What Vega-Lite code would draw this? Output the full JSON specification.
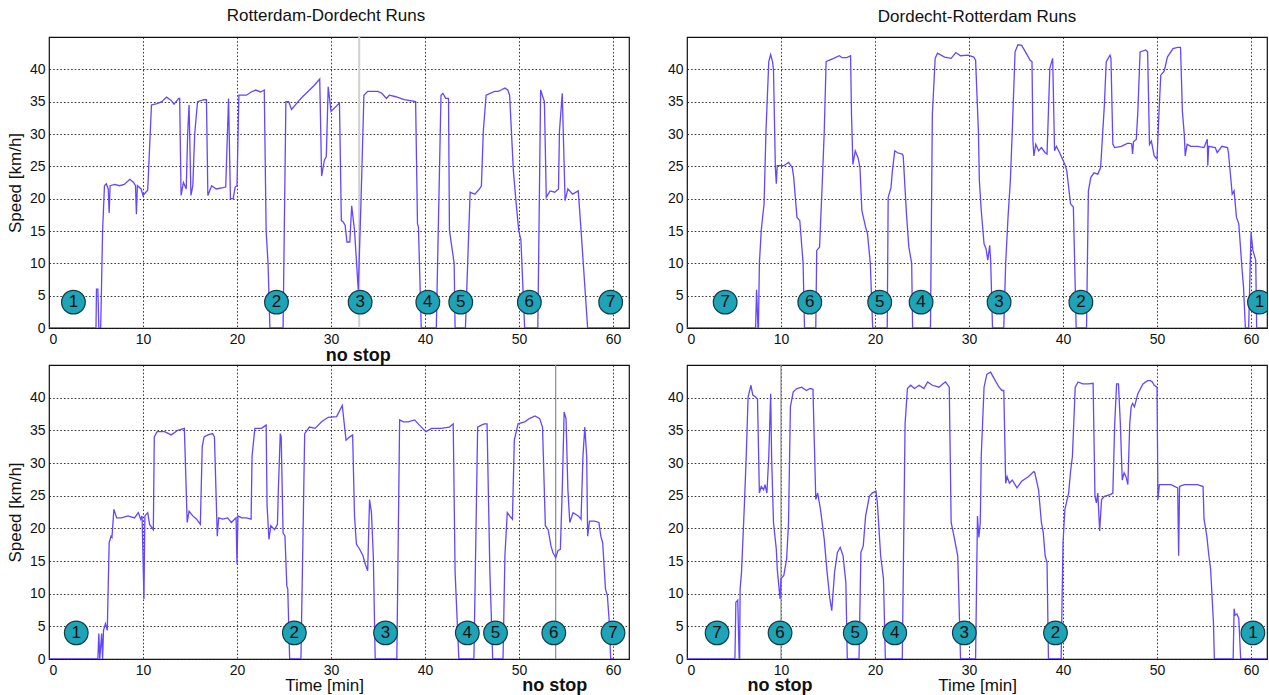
{
  "$schema": "https://vega.github.io/schema/vega-lite/v6.json",
  "background": "white",
  "padding": {"left": 5, "top": 6, "right": 0, "bottom": 0},
  "config": {
    "font": "Liberation Sans",
    "view": {"stroke": "#111", "strokeWidth": 1.2},
    "axis": {"grid": true, "gridColor": "#222", "gridDash": [1.6, 2], "gridWidth": 0.9, "domain": false, "ticks": false, "labelFontSize": 14, "labelColor": "#111", "titleFontSize": 17, "titleFontWeight": "normal", "titleColor": "#111", "labelPadding": 4},
    "title": {"fontSize": 17, "fontWeight": "normal", "color": "#111", "offset": 11}
  },
  "datasets": {
    "tl": [
      {"t":0,"v":0},{"t":5.0,"v":0},{"t":5.05,"v":6},{"t":5.2,"v":6},{"t":5.3,"v":0},{"t":5.5,"v":0},{"t":5.7,"v":15},{"t":5.9,"v":22},{"t":6.1,"v":22.3},{"t":6.3,"v":21.5},{"t":6.4,"v":17.8},{"t":6.5,"v":22},{"t":7,"v":22.2},{"t":7.5,"v":22},{"t":8,"v":22.2},{"t":8.6,"v":23},{"t":9.0,"v":22.5},{"t":9.2,"v":22},{"t":9.3,"v":17.6},{"t":9.4,"v":22},{"t":9.8,"v":21.5},{"t":10,"v":20.5},{"t":10.3,"v":21},{"t":10.5,"v":21.3},{"t":10.9,"v":34.5},{"t":11.5,"v":34.7},{"t":12,"v":35},{"t":12.5,"v":35.7},{"t":13,"v":35.2},{"t":13.3,"v":34.6},{"t":13.8,"v":35.5},{"t":13.9,"v":35.5},{"t":14.05,"v":20.5},{"t":14.3,"v":22.5},{"t":14.6,"v":21.5},{"t":14.75,"v":30},{"t":14.9,"v":34.5},{"t":15.1,"v":20.5},{"t":15.3,"v":22},{"t":15.5,"v":30},{"t":15.8,"v":35},{"t":16.5,"v":35.3},{"t":16.75,"v":35.3},{"t":16.9,"v":20.5},{"t":17.3,"v":22},{"t":17.8,"v":21.5},{"t":18.5,"v":21.7},{"t":18.8,"v":21.8},{"t":19.1,"v":35.5},{"t":19.3,"v":20},{"t":19.6,"v":20},{"t":19.8,"v":21.8},{"t":20.0,"v":22},{"t":20.2,"v":36},{"t":21,"v":36},{"t":21.5,"v":36.5},{"t":22,"v":36.8},{"t":22.5,"v":36.5},{"t":22.9,"v":36.8},{"t":23.1,"v":15},{"t":23.3,"v":10},{"t":23.5,"v":0},{"t":24.9,"v":0},{"t":25.2,"v":35},{"t":25.5,"v":35},{"t":25.8,"v":33.8},{"t":26.5,"v":35},{"t":27,"v":35.8},{"t":27.5,"v":36.5},{"t":28.2,"v":37.5},{"t":28.8,"v":38.5},{"t":29.0,"v":23.5},{"t":29.3,"v":26},{"t":29.5,"v":26.5},{"t":29.7,"v":37.3},{"t":30.0,"v":33.5},{"t":30.9,"v":34.8},{"t":31.1,"v":16.6},{"t":31.3,"v":16.4},{"t":31.5,"v":15.9},{"t":31.7,"v":13.3},{"t":32.0,"v":13.3},{"t":32.2,"v":18.9},{"t":32.5,"v":15.1},{"t":32.9,"v":5.9},{"t":33.2,"v":20},{"t":33.5,"v":36},{"t":33.9,"v":36.6},{"t":35.0,"v":36.6},{"t":35.4,"v":36.3},{"t":35.9,"v":35.5},{"t":36.2,"v":36},{"t":36.8,"v":35.8},{"t":37.8,"v":35.3},{"t":39.0,"v":35.0},{"t":39.2,"v":16.1},{"t":39.3,"v":15.6},{"t":39.6,"v":0},{"t":41.2,"v":0},{"t":41.7,"v":36},{"t":41.9,"v":36.3},{"t":42.2,"v":35.5},{"t":42.5,"v":35.5},{"t":42.6,"v":15.1},{"t":43.1,"v":10},{"t":43.2,"v":0},{"t":44.3,"v":0},{"t":44.8,"v":21},{"t":45.3,"v":20.7},{"t":45.8,"v":21.5},{"t":46.0,"v":22},{"t":46.2,"v":30.4},{"t":46.5,"v":36},{"t":47.4,"v":36.6},{"t":47.8,"v":36.6},{"t":48.1,"v":36.8},{"t":48.5,"v":37.1},{"t":48.8,"v":36.8},{"t":49.0,"v":36},{"t":49.4,"v":24.3},{"t":49.7,"v":19.2},{"t":49.97,"v":15.1},{"t":50.2,"v":13.6},{"t":50.6,"v":0},{"t":52.0,"v":0},{"t":52.3,"v":36.8},{"t":52.7,"v":35},{"t":52.9,"v":20.2},{"t":53.3,"v":21.2},{"t":53.8,"v":21},{"t":54.2,"v":21.5},{"t":54.3,"v":30.4},{"t":54.6,"v":36.3},{"t":54.9,"v":19.7},{"t":55.2,"v":21.5},{"t":55.7,"v":20.7},{"t":56.3,"v":21.2},{"t":56.6,"v":15.1},{"t":57.3,"v":0},{"t":61.7,"v":0}
    ],
    "tr": [
      {"t":0,"v":0},{"t":7.3,"v":0},{"t":7.4,"v":5.9},{"t":7.55,"v":0},{"t":7.6,"v":0},{"t":7.7,"v":10},{"t":7.9,"v":15.1},{"t":8.1,"v":17.9},{"t":8.2,"v":19.2},{"t":8.4,"v":30.4},{"t":8.7,"v":41.2},{"t":8.9,"v":42.3},{"t":9.1,"v":41.2},{"t":9.2,"v":39.9},{"t":9.4,"v":24.8},{"t":9.5,"v":22.3},{"t":9.6,"v":25.1},{"t":10.3,"v":25.1},{"t":10.8,"v":25.6},{"t":11.2,"v":24.8},{"t":11.35,"v":23.3},{"t":11.7,"v":17.1},{"t":12.0,"v":16.6},{"t":12.35,"v":10},{"t":12.5,"v":0},{"t":13.7,"v":0},{"t":13.8,"v":12},{"t":14.1,"v":12.5},{"t":14.4,"v":22.8},{"t":14.6,"v":30.4},{"t":14.8,"v":41.2},{"t":15.1,"v":41.4},{"t":15.6,"v":41.7},{"t":16.2,"v":42.1},{"t":16.5,"v":41.8},{"t":17.0,"v":41.8},{"t":17.4,"v":42.1},{"t":17.5,"v":33},{"t":17.65,"v":25.3},{"t":17.9,"v":27.4},{"t":18.2,"v":26.3},{"t":18.4,"v":24.8},{"t":18.6,"v":18.2},{"t":19.0,"v":15.6},{"t":19.2,"v":14.6},{"t":19.5,"v":10},{"t":19.75,"v":0},{"t":21.3,"v":0},{"t":21.4,"v":20.2},{"t":21.7,"v":21.7},{"t":21.85,"v":24.3},{"t":22.1,"v":27.4},{"t":22.4,"v":27.1},{"t":22.9,"v":26.9},{"t":23.0,"v":26.6},{"t":23.35,"v":17.6},{"t":23.6,"v":12.5},{"t":23.9,"v":10},{"t":24.0,"v":0},{"t":25.9,"v":0},{"t":26.1,"v":33},{"t":26.4,"v":41.7},{"t":26.65,"v":42.5},{"t":27.4,"v":41.9},{"t":28.1,"v":41.7},{"t":28.6,"v":42.6},{"t":29.1,"v":42.1},{"t":29.9,"v":42.2},{"t":30.5,"v":41.9},{"t":30.7,"v":41.4},{"t":31.0,"v":30.4},{"t":31.1,"v":22.8},{"t":31.3,"v":18.2},{"t":31.6,"v":13},{"t":31.8,"v":12.3},{"t":32.0,"v":10.5},{"t":32.2,"v":12.8},{"t":32.3,"v":10.5},{"t":32.5,"v":0},{"t":33.7,"v":0},{"t":33.9,"v":10},{"t":34.15,"v":17.1},{"t":34.4,"v":22.8},{"t":34.6,"v":30.4},{"t":34.9,"v":42.7},{"t":35.2,"v":43.8},{"t":35.6,"v":43.7},{"t":35.8,"v":43.2},{"t":36.2,"v":42.2},{"t":36.5,"v":41.4},{"t":36.7,"v":41.2},{"t":36.8,"v":28.9},{"t":36.9,"v":26.6},{"t":37.1,"v":28.4},{"t":37.4,"v":27.4},{"t":37.7,"v":27.9},{"t":38.1,"v":27.1},{"t":38.3,"v":26.9},{"t":38.6,"v":40.2},{"t":38.9,"v":41.7},{"t":39.1,"v":27.4},{"t":39.3,"v":28.1},{"t":39.7,"v":26.9},{"t":40.2,"v":25.3},{"t":40.4,"v":24.3},{"t":40.8,"v":19.2},{"t":41.1,"v":18.7},{"t":41.4,"v":0},{"t":42.5,"v":0},{"t":42.7,"v":21.2},{"t":42.96,"v":23.3},{"t":43.3,"v":24},{"t":43.7,"v":23.8},{"t":44.0,"v":24.8},{"t":44.4,"v":34.5},{"t":44.6,"v":41.2},{"t":45.0,"v":42.2},{"t":45.1,"v":41.7},{"t":45.3,"v":28.4},{"t":45.5,"v":27.9},{"t":46.2,"v":28.1},{"t":46.9,"v":28.6},{"t":47.3,"v":28.5},{"t":47.4,"v":26.9},{"t":47.5,"v":28.8},{"t":47.8,"v":29.2},{"t":47.96,"v":33.5},{"t":48.2,"v":42.7},{"t":48.8,"v":43},{"t":49.0,"v":42.7},{"t":49.2,"v":28.4},{"t":49.4,"v":28.9},{"t":49.7,"v":26.6},{"t":50.0,"v":26.1},{"t":50.2,"v":33},{"t":50.4,"v":39.1},{"t":50.7,"v":39.6},{"t":50.8,"v":39.9},{"t":51.1,"v":41.9},{"t":51.7,"v":43.2},{"t":52.2,"v":43.4},{"t":52.5,"v":43.4},{"t":52.7,"v":33.5},{"t":52.9,"v":29.9},{"t":53.0,"v":26.6},{"t":53.2,"v":28.4},{"t":53.6,"v":28.1},{"t":54.3,"v":28.1},{"t":55.0,"v":27.9},{"t":55.35,"v":29.2},{"t":55.4,"v":25.1},{"t":55.5,"v":28.1},{"t":56.2,"v":27.9},{"t":56.4,"v":27.1},{"t":56.9,"v":28.1},{"t":57.5,"v":27.9},{"t":57.6,"v":27.1},{"t":58.0,"v":20.7},{"t":58.2,"v":21.2},{"t":58.45,"v":17.1},{"t":58.7,"v":16.1},{"t":59.05,"v":9},{"t":59.2,"v":6.4},{"t":59.4,"v":0},{"t":59.75,"v":0},{"t":60.0,"v":14.8},{"t":60.2,"v":12},{"t":60.5,"v":10.5},{"t":60.6,"v":0},{"t":61.7,"v":0}
    ],
    "bl": [
      {"t":0,"v":0},{"t":5.2,"v":0},{"t":5.3,"v":3.9},{"t":5.4,"v":0},{"t":5.6,"v":3.9},{"t":5.7,"v":0},{"t":5.8,"v":4.4},{"t":6.0,"v":5.4},{"t":6.2,"v":4.4},{"t":6.4,"v":17.8},{"t":6.6,"v":18.8},{"t":6.7,"v":18.6},{"t":6.9,"v":22.9},{"t":7.2,"v":21.6},{"t":7.7,"v":21.6},{"t":8.4,"v":21.9},{"t":9.1,"v":21.6},{"t":9.5,"v":22.4},{"t":9.75,"v":21.4},{"t":9.9,"v":21.9},{"t":10.1,"v":9.2},{"t":10.2,"v":21.9},{"t":10.5,"v":22.4},{"t":10.7,"v":20.6},{"t":11.1,"v":19.8},{"t":11.2,"v":34},{"t":11.5,"v":34.8},{"t":12.3,"v":34.8},{"t":13.0,"v":34.3},{"t":13.7,"v":35},{"t":14.4,"v":35.3},{"t":14.7,"v":20.9},{"t":14.9,"v":22.6},{"t":15.3,"v":21.9},{"t":15.7,"v":21.4},{"t":16.1,"v":20.6},{"t":16.3,"v":32.5},{"t":16.5,"v":34},{"t":16.9,"v":34.3},{"t":17.4,"v":34.5},{"t":17.6,"v":34},{"t":17.9,"v":18.8},{"t":18.05,"v":21.6},{"t":18.5,"v":21.4},{"t":19.0,"v":21.6},{"t":19.4,"v":20.9},{"t":19.9,"v":21.6},{"t":20.0,"v":14.5},{"t":20.1,"v":21.9},{"t":20.5,"v":21.6},{"t":21.0,"v":21.6},{"t":21.5,"v":21.4},{"t":21.6,"v":31},{"t":21.9,"v":35.3},{"t":22.6,"v":35.3},{"t":23.1,"v":35.8},{"t":23.2,"v":23.4},{"t":23.4,"v":18.3},{"t":23.6,"v":20.4},{"t":24.0,"v":19.8},{"t":24.3,"v":20.6},{"t":24.4,"v":25.9},{"t":24.6,"v":34.5},{"t":24.7,"v":34},{"t":24.9,"v":19.3},{"t":25.1,"v":18.8},{"t":25.3,"v":11.2},{"t":25.4,"v":10.7},{"t":25.6,"v":0},{"t":26.8,"v":0},{"t":27.2,"v":34.5},{"t":27.7,"v":35.5},{"t":28.3,"v":35.3},{"t":29.0,"v":36.3},{"t":29.7,"v":37},{"t":30.6,"v":37.1},{"t":31.2,"v":38.8},{"t":31.4,"v":36.1},{"t":31.6,"v":33.5},{"t":32.0,"v":34},{"t":32.3,"v":34.3},{"t":32.5,"v":21.9},{"t":32.7,"v":17.6},{"t":33.05,"v":16.8},{"t":33.4,"v":15.8},{"t":33.65,"v":14.5},{"t":33.9,"v":13.5},{"t":34.1,"v":24.4},{"t":34.3,"v":22.4},{"t":34.5,"v":15.8},{"t":34.7,"v":0},{"t":37.0,"v":0},{"t":37.3,"v":36.6},{"t":37.7,"v":36.3},{"t":38.2,"v":36.3},{"t":38.9,"v":36.6},{"t":39.4,"v":35.8},{"t":40.1,"v":34.8},{"t":40.7,"v":35.3},{"t":41.7,"v":35.3},{"t":42.6,"v":35.5},{"t":43.0,"v":36},{"t":43.2,"v":13.3},{"t":43.6,"v":0},{"t":45.2,"v":0},{"t":45.6,"v":35.5},{"t":46.0,"v":35.8},{"t":46.3,"v":36},{"t":46.6,"v":36},{"t":46.9,"v":13.3},{"t":47.2,"v":0},{"t":48.3,"v":0},{"t":48.5,"v":15.8},{"t":48.75,"v":22.4},{"t":49.0,"v":21.9},{"t":49.3,"v":21.4},{"t":49.5,"v":33.5},{"t":49.9,"v":36},{"t":50.6,"v":36.3},{"t":51.1,"v":36.8},{"t":51.7,"v":37.2},{"t":52.2,"v":36.8},{"t":52.5,"v":35.5},{"t":52.8,"v":20.4},{"t":53.1,"v":19.8},{"t":53.4,"v":17.3},{"t":53.6,"v":16.3},{"t":53.9,"v":15.5},{"t":54.15,"v":16.6},{"t":54.4,"v":16.8},{"t":54.6,"v":25.9},{"t":54.8,"v":37.8},{"t":55.0,"v":36.8},{"t":55.2,"v":25.9},{"t":55.4,"v":20.9},{"t":55.75,"v":22.4},{"t":56.3,"v":21.9},{"t":56.6,"v":21.4},{"t":56.8,"v":31},{"t":57.0,"v":35.5},{"t":57.2,"v":31},{"t":57.3,"v":18.8},{"t":57.5,"v":21.1},{"t":58.05,"v":21.1},{"t":58.5,"v":20.9},{"t":58.7,"v":18.8},{"t":58.9,"v":17.8},{"t":59.2,"v":10.7},{"t":59.4,"v":9.7},{"t":59.6,"v":5.7},{"t":59.75,"v":0},{"t":60,"v":0}
    ],
    "br": [
      {"t":0,"v":0},{"t":5.1,"v":0},{"t":5.2,"v":8.7},{"t":5.4,"v":9},{"t":5.55,"v":0},{"t":5.6,"v":0},{"t":5.65,"v":10.7},{"t":5.8,"v":13.3},{"t":6.1,"v":23.4},{"t":6.3,"v":31},{"t":6.5,"v":40.1},{"t":6.8,"v":41.9},{"t":7.0,"v":40.4},{"t":7.3,"v":40.1},{"t":7.5,"v":39.8},{"t":7.7,"v":25.4},{"t":7.9,"v":26.4},{"t":8.15,"v":25.9},{"t":8.3,"v":26.7},{"t":8.5,"v":25.4},{"t":8.7,"v":31},{"t":8.9,"v":40.6},{"t":9.0,"v":31},{"t":9.2,"v":20.9},{"t":9.5,"v":16.8},{"t":9.6,"v":13.8},{"t":9.9,"v":9.2},{"t":10.0,"v":12.3},{"t":10.3,"v":12.8},{"t":10.6,"v":15.3},{"t":10.8,"v":20.9},{"t":11.0,"v":38.6},{"t":11.3,"v":40.9},{"t":11.7,"v":41.4},{"t":12.2,"v":41.6},{"t":12.7,"v":41.1},{"t":13.1,"v":41.4},{"t":13.4,"v":41.3},{"t":13.7,"v":24.4},{"t":13.9,"v":25.4},{"t":14.2,"v":22.9},{"t":14.6,"v":18.3},{"t":14.9,"v":13.3},{"t":15.2,"v":9.2},{"t":15.4,"v":7.4},{"t":15.7,"v":13.3},{"t":16.0,"v":16.3},{"t":16.3,"v":17.1},{"t":16.6,"v":15.8},{"t":16.9,"v":11.7},{"t":17.05,"v":0},{"t":18.3,"v":0},{"t":18.5,"v":16.3},{"t":18.75,"v":17.3},{"t":19.0,"v":21.9},{"t":19.4,"v":24.9},{"t":19.7,"v":25.4},{"t":20.1,"v":25.7},{"t":20.25,"v":23.9},{"t":20.6,"v":15.8},{"t":20.9,"v":12.3},{"t":21.1,"v":0},{"t":22.9,"v":0},{"t":23.2,"v":36},{"t":23.45,"v":41.4},{"t":23.8,"v":41.9},{"t":24.2,"v":41.4},{"t":24.7,"v":41.9},{"t":25.2,"v":41.4},{"t":25.6,"v":42.4},{"t":26.1,"v":41.9},{"t":26.8,"v":41.6},{"t":27.2,"v":42.1},{"t":27.5,"v":42.4},{"t":27.9,"v":41.6},{"t":28.1,"v":20.9},{"t":28.4,"v":18.8},{"t":28.8,"v":15.8},{"t":29.1,"v":0},{"t":30.7,"v":0},{"t":30.9,"v":21.9},{"t":31.05,"v":18.6},{"t":31.2,"v":20.9},{"t":31.3,"v":31},{"t":31.6,"v":41.6},{"t":31.9,"v":43.6},{"t":32.3,"v":43.9},{"t":32.6,"v":43.1},{"t":33.2,"v":41.6},{"t":33.5,"v":41.1},{"t":33.7,"v":41.1},{"t":33.9,"v":26.9},{"t":34.05,"v":27.9},{"t":34.3,"v":26.9},{"t":34.6,"v":27.4},{"t":34.9,"v":26.7},{"t":35.1,"v":26.2},{"t":35.6,"v":27.2},{"t":36.3,"v":27.9},{"t":36.9,"v":28.7},{"t":37.0,"v":28.5},{"t":37.4,"v":25.9},{"t":37.7,"v":20.9},{"t":37.9,"v":19.3},{"t":38.1,"v":15.8},{"t":38.3,"v":14.8},{"t":38.45,"v":0},{"t":39.8,"v":0},{"t":40.0,"v":17.8},{"t":40.2,"v":22.9},{"t":40.6,"v":25.4},{"t":40.8,"v":28.7},{"t":41.0,"v":31},{"t":41.3,"v":41.6},{"t":41.6,"v":42.4},{"t":42.1,"v":42.1},{"t":42.7,"v":42.1},{"t":43.2,"v":42.2},{"t":43.4,"v":24.9},{"t":43.55,"v":23.9},{"t":43.7,"v":25.4},{"t":43.9,"v":19.6},{"t":44.1,"v":24.4},{"t":44.4,"v":24.9},{"t":45.1,"v":25.2},{"t":45.3,"v":25.4},{"t":45.5,"v":36},{"t":45.7,"v":42.1},{"t":45.9,"v":42.1},{"t":46.1,"v":36},{"t":46.3,"v":27.4},{"t":46.5,"v":28.5},{"t":46.7,"v":27.9},{"t":46.9,"v":26.7},{"t":47.1,"v":36},{"t":47.25,"v":38.6},{"t":47.4,"v":39.1},{"t":47.6,"v":38.6},{"t":47.96,"v":40.6},{"t":48.5,"v":42.1},{"t":49.0,"v":42.6},{"t":49.3,"v":42.6},{"t":49.5,"v":42.4},{"t":49.7,"v":41.9},{"t":50.0,"v":41.6},{"t":50.1,"v":24.4},{"t":50.25,"v":26.7},{"t":50.8,"v":26.7},{"t":51.5,"v":26.7},{"t":52.2,"v":26.2},{"t":52.3,"v":15.8},{"t":52.4,"v":26.4},{"t":52.9,"v":26.7},{"t":53.6,"v":26.7},{"t":54.3,"v":26.7},{"t":54.9,"v":26.4},{"t":55.0,"v":21.4},{"t":55.3,"v":18.8},{"t":55.5,"v":16},{"t":55.7,"v":13.8},{"t":56.0,"v":5.7},{"t":56.1,"v":0},{"t":58.1,"v":0},{"t":58.2,"v":7.7},{"t":58.3,"v":6.7},{"t":58.5,"v":6.9},{"t":58.7,"v":6.2},{"t":58.9,"v":0},{"t":61.7,"v":0}
    ],
    "markers": [
      {"p":"tl","t":2.6,"v":4,"n":"1"},{"p":"tl","t":24.2,"v":4,"n":"2"},{"p":"tl","t":33.1,"v":4,"n":"3"},{"p":"tl","t":40.3,"v":4,"n":"4"},{"p":"tl","t":43.8,"v":4,"n":"5"},{"p":"tl","t":51.1,"v":4,"n":"6"},{"p":"tl","t":59.75,"v":4,"n":"7"},
      {"p":"tr","t":4.06,"v":4,"n":"7"},{"p":"tr","t":13.06,"v":4,"n":"6"},{"p":"tr","t":20.5,"v":4,"n":"5"},{"p":"tr","t":24.9,"v":4,"n":"4"},{"p":"tr","t":33.2,"v":4,"n":"3"},{"p":"tr","t":41.9,"v":4,"n":"2"},{"p":"tr","t":60.9,"v":4,"n":"1"},
      {"p":"bl","t":2.9,"v":4,"n":"1"},{"p":"bl","t":26.1,"v":4,"n":"2"},{"p":"bl","t":35.8,"v":4,"n":"3"},{"p":"bl","t":44.5,"v":4,"n":"4"},{"p":"bl","t":47.5,"v":4,"n":"5"},{"p":"bl","t":53.7,"v":4,"n":"6"},{"p":"bl","t":60.0,"v":4,"n":"7"},
      {"p":"br","t":3.2,"v":4,"n":"7"},{"p":"br","t":9.9,"v":4,"n":"6"},{"p":"br","t":17.9,"v":4,"n":"5"},{"p":"br","t":22.1,"v":4,"n":"4"},{"p":"br","t":29.5,"v":4,"n":"3"},{"p":"br","t":39.2,"v":4,"n":"2"},{"p":"br","t":60.2,"v":4,"n":"1"}
    ],
    "nostop": [
      {"p":"tl","t":32.9,"v":-4.35,"label":"no stop"},
      {"p":"bl","t":53.8,"v":-4.2,"label":"no stop"},
      {"p":"br","t":9.9,"v":-4.2,"label":"no stop"}
    ],
    "marks": [
      {"p":"tl","t":33.0,"c":"light"},
      {"p":"bl","t":53.9,"c":"dark"},
      {"p":"br","t":10.0,"c":"dark"}
    ]
  },
  "columns": 2,
  "spacing": {"row": 37, "column": 58},
  "bounds": "flush",
  "concat": [
    {
      "width": 580, "height": 291,
      "title": {"text": "Rotterdam-Dordecht Runs", "dx": -13},
      "encoding": {
        "x": {"field": "t", "type": "quantitative", "scale": {"domain": [0, 61.7], "nice": false, "zero": false}, "axis": {"values": [0,10,20,30,40,50,60], "title": null}},
        "y": {"field": "v", "type": "quantitative", "scale": {"domain": [0, 45], "nice": false}, "axis": {"values": [0,5,10,15,20,25,30,35,40], "title": "Speed [km/h]", "titlePadding": 5}}
      },
      "layer": [
        {"data": {"name": "marks"}, "transform": [{"filter": "datum.p == 'tl'"}], "mark": {"type": "rule", "color": "#cfcfcf", "strokeWidth": 2}, "encoding": {"y": null}},
        {"data": {"name": "tl"}, "mark": {"type": "line", "color": "#6446ff", "strokeWidth": 1.3, "clip": true}},
        {"data": {"name": "markers"}, "transform": [{"filter": "datum.p == 'tl'"}], "mark": {"type": "point", "shape": "circle", "filled": true, "size": 560, "fill": "#1fa3b6", "stroke": "#123c44", "strokeWidth": 1.2, "opacity": 1, "clip": true}},
        {"data": {"name": "markers"}, "transform": [{"filter": "datum.p == 'tl'"}], "mark": {"type": "text", "fontSize": 17, "color": "#111", "baseline": "middle", "clip": true}, "encoding": {"text": {"field": "n"}}},
        {"data": {"name": "nostop"}, "transform": [{"filter": "datum.p == 'tl'"}], "mark": {"type": "text", "fontSize": 18, "fontWeight": "bold", "color": "#111", "baseline": "middle"}, "encoding": {"text": {"field": "label"}}}
      ]
    },
    {
      "width": 580, "height": 291,
      "title": {"text": "Dordecht-Rotterdam Runs"},
      "encoding": {
        "x": {"field": "t", "type": "quantitative", "scale": {"domain": [0, 61.7], "nice": false, "zero": false}, "axis": {"values": [0,10,20,30,40,50,60], "title": null}},
        "y": {"field": "v", "type": "quantitative", "scale": {"domain": [0, 45], "nice": false}, "axis": {"values": [0,5,10,15,20,25,30,35,40], "title": null}}
      },
      "layer": [
        {"data": {"name": "tr"}, "mark": {"type": "line", "color": "#6446ff", "strokeWidth": 1.3, "clip": true}},
        {"data": {"name": "markers"}, "transform": [{"filter": "datum.p == 'tr'"}], "mark": {"type": "point", "shape": "circle", "filled": true, "size": 560, "fill": "#1fa3b6", "stroke": "#123c44", "strokeWidth": 1.2, "opacity": 1, "clip": true}},
        {"data": {"name": "markers"}, "transform": [{"filter": "datum.p == 'tr'"}], "mark": {"type": "text", "fontSize": 17, "color": "#111", "baseline": "middle", "clip": true}, "encoding": {"text": {"field": "n"}}}
      ]
    },
    {
      "width": 580, "height": 294,
      "encoding": {
        "x": {"field": "t", "type": "quantitative", "scale": {"domain": [0, 61.7], "nice": false, "zero": false}, "axis": {"values": [0,10,20,30,40,50,60], "title": "Time [min]", "titlePadding": 0, "titleX": 275}},
        "y": {"field": "v", "type": "quantitative", "scale": {"domain": [0, 45], "nice": false}, "axis": {"values": [0,5,10,15,20,25,30,35,40], "title": "Speed [km/h]", "titlePadding": 5}}
      },
      "layer": [
        {"data": {"name": "marks"}, "transform": [{"filter": "datum.p == 'bl'"}], "mark": {"type": "rule", "color": "#8a8a8a", "strokeWidth": 1.2}, "encoding": {"y": null}},
        {"data": {"name": "bl"}, "mark": {"type": "line", "color": "#6446ff", "strokeWidth": 1.3, "clip": true}},
        {"data": {"name": "markers"}, "transform": [{"filter": "datum.p == 'bl'"}], "mark": {"type": "point", "shape": "circle", "filled": true, "size": 560, "fill": "#1fa3b6", "stroke": "#123c44", "strokeWidth": 1.2, "opacity": 1, "clip": true}},
        {"data": {"name": "markers"}, "transform": [{"filter": "datum.p == 'bl'"}], "mark": {"type": "text", "fontSize": 17, "color": "#111", "baseline": "middle", "clip": true}, "encoding": {"text": {"field": "n"}}},
        {"data": {"name": "nostop"}, "transform": [{"filter": "datum.p == 'bl'"}], "mark": {"type": "text", "fontSize": 18, "fontWeight": "bold", "color": "#111", "baseline": "middle"}, "encoding": {"text": {"field": "label"}}}
      ]
    },
    {
      "width": 580, "height": 294,
      "encoding": {
        "x": {"field": "t", "type": "quantitative", "scale": {"domain": [0, 61.7], "nice": false, "zero": false}, "axis": {"values": [0,10,20,30,40,50,60], "title": "Time [min]", "titlePadding": 0}},
        "y": {"field": "v", "type": "quantitative", "scale": {"domain": [0, 45], "nice": false}, "axis": {"values": [0,5,10,15,20,25,30,35,40], "title": null}}
      },
      "layer": [
        {"data": {"name": "marks"}, "transform": [{"filter": "datum.p == 'br'"}], "mark": {"type": "rule", "color": "#8a8a8a", "strokeWidth": 1.2}, "encoding": {"y": null}},
        {"data": {"name": "br"}, "mark": {"type": "line", "color": "#6446ff", "strokeWidth": 1.3, "clip": true}},
        {"data": {"name": "markers"}, "transform": [{"filter": "datum.p == 'br'"}], "mark": {"type": "point", "shape": "circle", "filled": true, "size": 560, "fill": "#1fa3b6", "stroke": "#123c44", "strokeWidth": 1.2, "opacity": 1, "clip": true}},
        {"data": {"name": "markers"}, "transform": [{"filter": "datum.p == 'br'"}], "mark": {"type": "text", "fontSize": 17, "color": "#111", "baseline": "middle", "clip": true}, "encoding": {"text": {"field": "n"}}},
        {"data": {"name": "nostop"}, "transform": [{"filter": "datum.p == 'br'"}], "mark": {"type": "text", "fontSize": 18, "fontWeight": "bold", "color": "#111", "baseline": "middle"}, "encoding": {"text": {"field": "label"}}}
      ]
    }
  ]
}
